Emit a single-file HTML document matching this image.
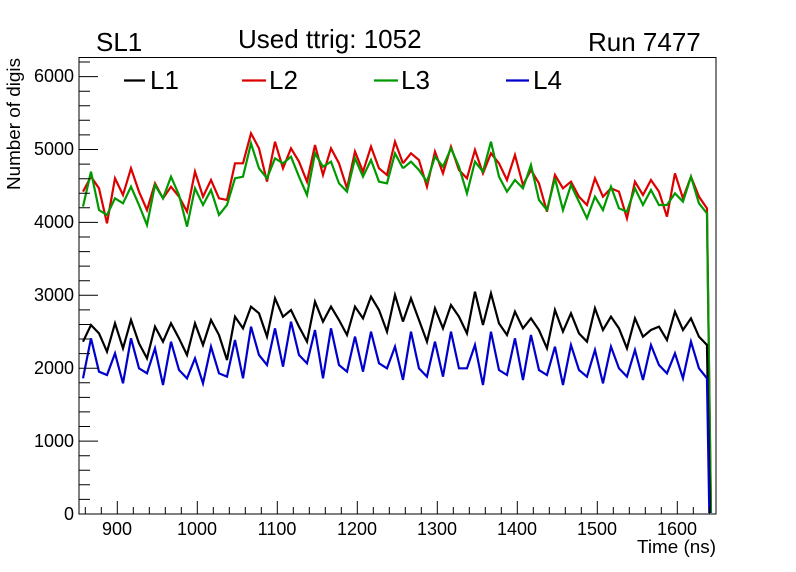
<!DOCTYPE html>
<html><head><meta charset="utf-8"><style>
html,body{margin:0;padding:0;background:#fff;}
svg{display:block;font-family:"Liberation Sans",sans-serif;}
</style></head><body>
<svg width="796" height="572" viewBox="0 0 796 572" xmlns="http://www.w3.org/2000/svg">
<rect width="796" height="572" fill="#fff"/>
<rect x="79" y="57.5" width="637" height="456.5" fill="none" stroke="#000" stroke-width="1"/>
<g font-size="18" fill="#000" text-anchor="middle">
<text x="117" y="535">900</text><text x="197" y="535">1000</text><text x="277" y="535">1100</text><text x="357" y="535">1200</text><text x="437" y="535">1300</text><text x="517" y="535">1400</text><text x="597" y="535">1500</text><text x="677" y="535">1600</text>
</g>
<g font-size="18" fill="#000" text-anchor="end">
<text x="74" y="520">0</text><text x="74" y="447">1000</text><text x="74" y="374">2000</text><text x="74" y="301">3000</text><text x="74" y="228">4000</text><text x="74" y="155">5000</text><text x="74" y="82">6000</text>
</g>
<text x="637" y="553" font-size="18" textLength="79" lengthAdjust="spacingAndGlyphs">Time (ns)</text>
<text transform="translate(20,190) rotate(-90)" font-size="18" textLength="132" lengthAdjust="spacingAndGlyphs">Number of digis</text>
<text x="96" y="51" font-size="26">SL1</text>
<text x="238" y="48" font-size="26">Used ttrig: 1052</text>
<text x="588" y="51" font-size="26">Run 7477</text>
<g stroke-width="2.2">
<line x1="124" y1="80.5" x2="145" y2="80.5" stroke="#000"/>
<line x1="242" y1="80.5" x2="266" y2="80.5" stroke="#d00"/>
<line x1="374" y1="80.5" x2="398" y2="80.5" stroke="#090"/>
<line x1="506" y1="80.5" x2="529" y2="80.5" stroke="#00c"/>
</g>
<g font-size="26"><text x="150" y="89">L1</text><text x="269" y="89">L2</text><text x="401" y="89">L3</text><text x="533" y="89">L4</text></g>
<g fill="none" stroke-width="6.6" stroke-linejoin="miter">
<g transform="translate(75,120) scale(0.33333)">
<polyline stroke="#d00" points="24,215 48,170 72,205 96,310 120,175 144,225 168,145 192,215 216,270 240,190 264,235 288,200 312,230 336,275 360,155 384,230 408,180 432,235 456,240 480,130 504,130 528,40 552,85 576,185 600,65 624,145 648,85 672,125 696,185 720,75 744,165 768,85 792,130 816,205 840,95 864,155 888,80 912,145 936,165 960,65 984,130"/>
<polyline stroke="#090" points="24,260 48,155 72,270 96,285 120,235 144,250 168,200 192,255 216,315 240,195 264,235 288,170 312,225 336,320 360,205 384,255 408,210 432,285 456,255 480,175 504,170 528,70 552,145 576,175 600,115 624,130 648,110 672,170 696,225 720,100 744,140 768,125 792,190 816,215 840,115 864,170 888,120 912,185 936,190 960,100 984,145"/>
<polyline stroke="#000" points="24,665 48,615 72,640 96,695 120,610 144,685 168,600 192,670 216,715 240,620 264,665 288,610 312,655 336,705 360,610 384,675 408,600 432,645 456,720 480,590 504,625 528,560 552,580 576,650 600,535 624,590 648,570 672,620 696,665 720,545 744,605 768,560 792,600 816,645 840,560 864,595 888,530 912,570 936,635 960,525 984,605"/>
<polyline stroke="#00c" points="24,775 48,655 72,755 96,765 120,700 144,790 168,655 192,745 216,760 240,685 264,795 288,665 312,750 336,775 360,715 384,790 408,680 432,760 456,770 480,660 504,775 528,620 552,705 576,735 600,625 624,740 648,605 672,705 696,730 720,630 744,775 768,625 792,735 816,755 840,650 864,755 888,635 912,730 936,745 960,680 984,780"/>
</g>
<g transform="translate(397.3,120) scale(0.33333)">
<polyline stroke="#d00" points="17,130 41,100 65,120 89,200 113,95 137,160 161,80 185,150 209,175 233,90 257,160 281,100 305,130 329,180 353,105 377,195 401,150 425,190 449,275 473,165 497,205 521,185 545,230 569,255 593,175 617,230 641,205 665,215 689,295 713,185 737,225 761,180 785,215 809,290 833,160 857,235 881,170 905,230 929,265 941,1179"/>
<polyline stroke="#090" points="17,145 41,125 65,150 89,185 113,110 137,140 161,85 185,140 209,220 233,125 257,155 281,65 305,170 329,215 353,180 377,205 401,135 425,240 449,270 473,175 497,270 521,195 545,245 569,295 593,230 617,270 641,200 665,265 689,275 713,205 737,255 761,210 785,255 809,255 833,220 857,245 881,170 905,250 929,280 941,1179"/>
<polyline stroke="#000" points="17,605 41,535 65,600 89,665 113,565 137,625 161,555 185,590 209,640 233,515 257,615 281,520 305,610 329,645 353,575 377,625 401,595 425,630 449,685 473,570 497,635 521,580 545,640 569,665 593,565 617,630 641,590 665,625 689,685 713,595 737,650 761,630 785,620 809,660 833,575 857,630 881,595 905,650 929,675 938,1179"/>
<polyline stroke="#00c" points="17,780 41,635 65,745 89,770 113,665 137,770 161,635 185,745 209,745 233,675 257,795 281,635 305,750 329,765 353,655 377,780 401,645 425,750 449,765 473,680 497,795 521,675 545,750 569,770 593,690 617,790 641,680 665,745 689,770 713,690 737,780 761,675 785,735 809,760 833,700 857,775 881,665 905,745 929,775 936,1179"/>
</g>
</g>
<g stroke="#000" stroke-width="1">
<path d="M85.3,514v-7M101.3,514v-7M117.3,514v-13M133.3,514v-7M149.3,514v-7M165.3,514v-7M181.3,514v-7M197.3,514v-13M213.3,514v-7M229.3,514v-7M245.3,514v-7M261.3,514v-7M277.3,514v-13M293.3,514v-7M309.3,514v-7M325.3,514v-7M341.3,514v-7M357.3,514v-13M373.3,514v-7M389.3,514v-7M405.3,514v-7M421.3,514v-7M437.3,514v-13M453.3,514v-7M469.3,514v-7M485.3,514v-7M501.3,514v-7M517.3,514v-13M533.3,514v-7M549.3,514v-7M565.3,514v-7M581.3,514v-7M597.3,514v-13M613.3,514v-7M629.3,514v-7M645.3,514v-7M661.3,514v-7M677.3,514v-13M693.3,514v-7M709.3,514v-7"/>
<path d="M79,514h19M79,499.4h11M79,484.8h11M79,470.3h11M79,455.7h11M79,441.1h19M79,426.5h11M79,411.9h11M79,397.4h11M79,382.8h11M79,368.2h19M79,353.6h11M79,339h11M79,324.5h11M79,309.9h11M79,295.3h19M79,280.7h11M79,266.1h11M79,251.6h11M79,237h11M79,222.4h19M79,207.8h11M79,193.2h11M79,178.7h11M79,164.1h11M79,149.5h19M79,134.9h11M79,120.3h11M79,105.8h11M79,91.2h11M79,76.6h19M79,62h11"/>
</g>
</svg>
</body></html>
